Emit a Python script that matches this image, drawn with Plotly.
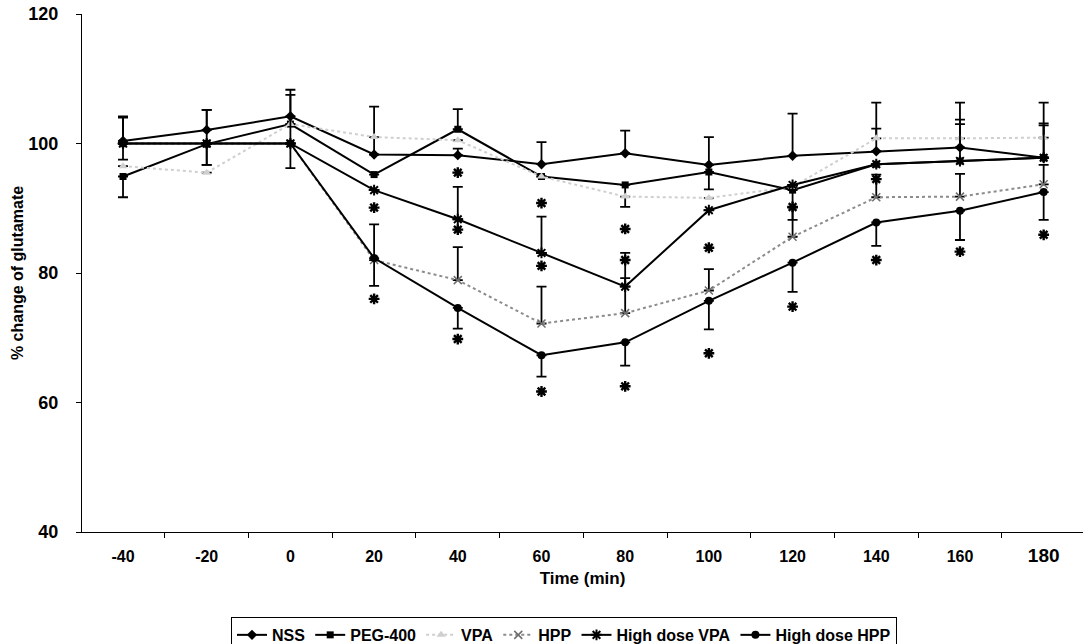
import plotly.graph_objects as go

time_labels = ["-40", "-20", "0", "20", "40", "60", "80", "100", "120", "140", "160", "180"]

nss = [100.4, 102.1, 104.2, 98.3, 98.2, 96.8, 98.5, 96.7, 98.1, 98.8, 99.4, 97.8]
peg400 = [94.9, 99.9, 103.0, 95.2, 102.2, 94.9, 93.6, 95.6, 92.8, 96.8, 97.3, 97.8]
vpa = [96.5, 95.5, 103.0, 101.0, 100.5, 94.9, 91.8, 91.6, 93.3, 100.8, 100.8, 100.9]
hpp = [100.0, 100.0, 100.0, 82.0, 78.9, 72.2, 73.8, 77.3, 85.6, 91.7, 91.8, 93.7]
hd_vpa = [100.0, 100.0, 100.0, 92.8, 88.3, 83.1, 77.9, 89.7, 93.6, 96.8, 97.3, 97.8]
hd_hpp = [100.0, 100.0, 100.0, 82.3, 74.6, 67.3, 69.3, 75.7, 81.6, 87.8, 89.6, 92.5]

# error bars (plus / minus)
nss_plus = [3.8, 3.1, 4.1, 7.4, 1.0, 3.4, 3.5, 4.3, 6.5, 7.5, 6.9, 8.5]
nss_minus = [0, 0, 0, 0, 0, 0, 0, 0, 0, 0, 0, 0]
peg_plus = [0, 0, 0, 0, 3.1, 0, 0, 0, 0, 0, 0, 0]
peg_minus = [3.2, 3.2, 0, 0, 0, 0, 3.4, 2.7, 4.6, 0, 0, 0]
vpa_plus = [0, 0, 0, 0, 0, 0, 0, 0, 0, 1.5, 2.9, 2.2]
vpa_minus = [0, 0, 0, 0, 0, 0, 0, 0, 0, 0, 0, 0]
hpp_plus = [0, 0, 0, 5.5, 5.1, 5.7, 5.4, 3.3, 4.5, 3.5, 3.5, 3.0]
hpp_minus = [0, 0, 0, 0, 0, 0, 0, 0, 0, 0, 0, 0]
hdvpa_plus = [4.0, 5.2, 7.5, 0, 5.0, 5.6, 5.2, 0, 0, 0, 5.7, 5.0]
hdvpa_minus = [0, 0, 0, 0, 0, 0, 0, 0, 0, 0, 0, 0]
hdhpp_plus = [0, 0, 0, 0, 0, 0, 0, 0, 0, 0, 0, 0]
hdhpp_minus = [2.5, 3.3, 3.8, 4.3, 3.2, 3.3, 3.6, 4.4, 4.5, 3.6, 4.5, 4.3]

# significance asterisks: (time index, level)
sig_idx = [3, 3, 4, 4, 4, 5, 5, 5, 6, 6, 6, 7, 7, 8, 8, 9, 9, 10, 11]
sig_level = [90.1, 76.0, 95.5, 86.7, 69.8, 90.8, 81.1, 61.7, 86.8, 82.0, 62.5,
             83.9, 67.6, 90.2, 74.8, 94.5, 82.0, 83.3, 85.9]

FONT = "Arial, 'Liberation Sans', sans-serif"
x = list(range(len(time_labels)))

fig = go.Figure()

def add_series(name, y, plus, minus, symbol, color, size, dash="solid", width=2,
               mcolor=None, mline=0):
    fig.add_trace(go.Scatter(
        x=x, y=y, name=f"<b>{name}</b>", mode="lines+markers",
        line=dict(color=color, width=width, dash=dash),
        marker=dict(symbol=symbol, size=size, color=mcolor or color,
                    line=dict(color=mcolor or color, width=mline)),
        error_y=dict(type="data", symmetric=False, array=plus, arrayminus=minus,
                     color="black", thickness=1.8, width=5),
    ))

add_series("NSS", nss, nss_plus, nss_minus, "diamond", "black", 8)
add_series("PEG-400", peg400, peg_plus, peg_minus, "square", "black", 7)
add_series("VPA", vpa, vpa_plus, vpa_minus, "triangle-up", "#cfcfcf", 8, dash="dot", width=2)
add_series("HPP", hpp, hpp_plus, hpp_minus, "x-thin-open", "#8c8c8c", 8, dash="dot",
           width=2, mcolor="#6e6e6e", mline=1.5)
add_series("High dose VPA", hd_vpa, hdvpa_plus, hdvpa_minus, "asterisk-open", "black", 9,
           mline=2)
add_series("High dose HPP", hd_hpp, hdhpp_plus, hdhpp_minus, "circle", "black", 8)

fig.add_trace(go.Scatter(
    x=sig_idx, y=sig_level, mode="markers", showlegend=False, hoverinfo="skip",
    marker=dict(symbol="asterisk-open", size=9, color="black",
                line=dict(color="black", width=2.4)),
))

ticktext = [f"<b>{t}</b>" for t in time_labels]
ticktext[-1] = "<b><span style='font-size:19px'>180</span></b>"

fig.update_layout(
    width=1083, height=644,
    paper_bgcolor="white", plot_bgcolor="white",
    margin=dict(l=82, r=0, t=14, b=112, autoexpand=False),
    font=dict(family=FONT, color="black", size=14),
    showlegend=True,
    legend=dict(orientation="h", x=0.4815, xanchor="center", y=-0.164, yanchor="top",
                bordercolor="black", borderwidth=1, bgcolor="white",
                font=dict(family=FONT, size=16, color="black"),
                itemwidth=30, tracegroupgap=0),
    xaxis=dict(
        range=[-0.49, 11.47], tickmode="array", tickvals=x, ticktext=ticktext,
        ticks="outside", ticklen=10, tickcolor="rgba(0,0,0,0)", automargin=False,
        showline=True, linecolor="black", linewidth=1, showgrid=False, zeroline=False,
        tickfont=dict(family=FONT, size=16, color="black"),
        minor=dict(ticks="outside", tick0=-0.5, dtick=1, ticklen=5, tickcolor="black",
                   showgrid=False),
        title=dict(text="<b>Time (min)</b>", font=dict(family=FONT, size=17), standoff=6),
    ),
    yaxis=dict(
        range=[40, 120], tickmode="array", tickvals=[40, 60, 80, 100, 120],
        ticktext=["<b>40</b>", "<b>60</b>", "<b>80</b>", "<b>100</b>", "<b>120</b>"],
        ticks="outside", ticklen=5, tickcolor="black", automargin=False,
        showline=True, linecolor="black", linewidth=1, showgrid=False, zeroline=False,
        tickfont=dict(family=FONT, size=18, color="black"),
        ticklabelstandoff=14, ticklabeloverflow="allow",
        title=dict(text="<b>% change of glutamate</b>", font=dict(family=FONT, size=16),
                   standoff=0),
    ),
)

# remove the page's default 8px body margin so the figure fills the window exactly
fig.write_html("out.html",
               config={"displayModeBar": False},
               post_script="document.body.style.margin='0';document.body.style.overflow='hidden';")
